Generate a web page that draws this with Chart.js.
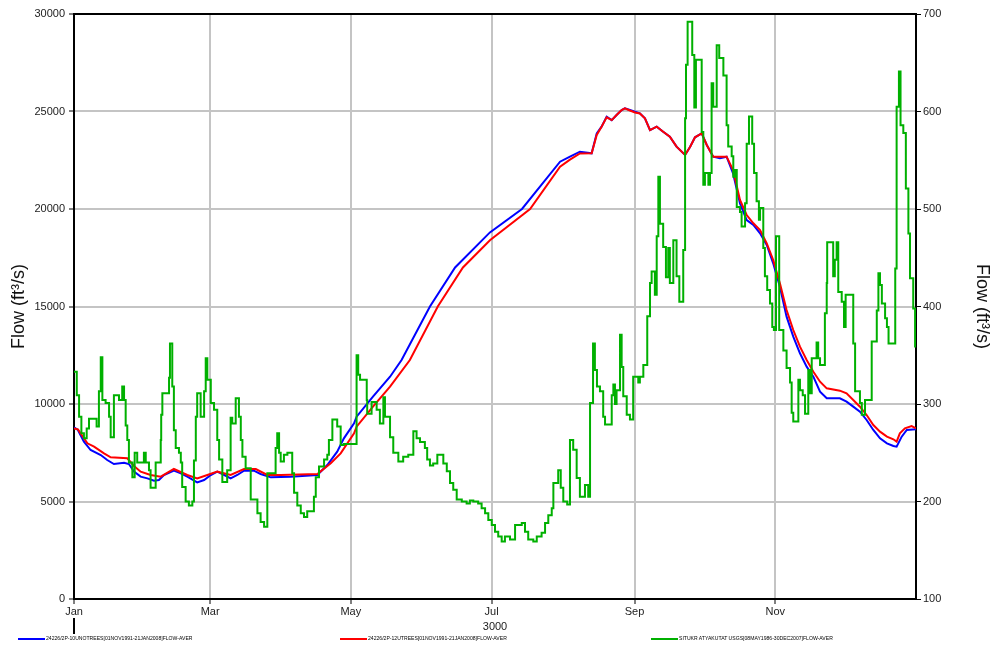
<!DOCTYPE html>
<html>
<head>
<meta charset="utf-8">
<script src="https://cdn.jsdelivr.net/npm/chart.js@4"></script>
<style>
  body { margin: 0; background: #fff; }
  #wrap { position: relative; width: 993px; height: 648px; }
  #legend { position: absolute; left: 0; top: 633px; width: 993px; height: 12px;
            font-family: "Liberation Sans", Arial, sans-serif; font-size: 5.1px; color: #000; }
  .item { position: absolute; top: 0; white-space: nowrap; line-height: 10px; }
  .item span { display: inline-block; width: 27px; height: 2px; vertical-align: middle; margin-right: 1px; }
</style>
</head>
<body>
<div id="wrap">
  <canvas id="flowChart" width="993" height="648"></canvas>
  <div id="legend"></div>
</div>
<script>
// day of year (0 = 1 Jan) and month tick labels
var monthStarts = [0, 59, 120, 181, 243, 304];
var monthLabels = ['Jan', 'Mar', 'May', 'Jul', 'Sep', 'Nov'];
var yearLabel = '3000';

var seriesLabels = [
    '24226/2P-10UNOTREES[01NOV1991-21JAN2008]FLOW-AVER',
    '24226/2P-12UTREES[01NOV1991-21JAN2008]FLOW-AVER',
    'SITUKR ATYAKUTAT USGS[08MAY1986-30DEC2007]FLOW-AVER'
];

// blue series (left axis, ft3/s)
var blueDays = [0, 1.7, 4.3, 7.2, 11.6, 14.4, 17.3, 21.7, 23.8, 26.0, 28.9, 31.8, 34.7, 36.8, 39.0, 43.3, 46.3, 49.1, 53.4,
    56.4, 59.3, 62.1, 64.3, 67.9, 70.8, 73.7, 78.0, 80.9, 85.3, 93.9, 105.5, 109.8, 114.1, 117.0, 121.4, 122.5, 129.6,
    137.0, 142.0, 154.3, 165.2, 180.3, 194.2, 210.7, 215.0, 219.3, 224.4, 226.6, 228.7, 230.9, 233.1, 235.2, 237.4,
    238.8, 241.0, 243.2, 245.3, 247.5, 249.7, 252.6, 255.4, 258.3, 261.2, 264.9, 267.1, 269.2, 272.1, 274.3, 277.1,
    280.0, 282.9, 285.7, 288.7, 291.6, 294.5, 297.4, 300.3, 303.1, 306.0, 308.9, 311.8, 314.7, 317.6, 320.5, 323.4,
    326.3, 332.0, 334.9, 337.8, 340.7, 343.6, 346.5, 349.4, 352.4, 355.2, 356.6, 358.8, 361.0, 365];
var blueFlow = [8800, 8667, 8067, 7640, 7385, 7128, 6923, 6990, 6923, 6530, 6274, 6188, 6068, 6103, 6359, 6581, 6444, 6274, 5983,
    6103, 6359, 6530, 6410, 6188, 6359, 6581, 6581, 6410, 6239, 6274, 6359, 6872, 7555, 8239, 9009, 9350, 10376,
    11400, 12256, 15000, 17000, 18800, 20000, 22427, 22683, 22940, 22855, 23880, 24220, 24735, 24560, 24820, 25077,
    25163, 25077, 24991, 24906, 24650, 24050, 24220, 23965, 23709, 23196, 22769, 23196, 23675, 23880, 23282, 22683,
    22598, 22683, 21830, 20290, 19436, 19180, 18753, 18154, 17214, 16017, 14479, 13453, 12600, 11915, 11403, 10632,
    10291, 10291, 10120, 9863, 9607, 9180, 8667, 8239, 7983, 7846, 7812, 8325, 8667, 8700];

// red series (left axis, ft3/s)
var redDays = [0, 1.7, 5.8, 8.7, 13.0, 15.9, 23.1, 26.0, 28.9, 33.2, 37.6, 43.3, 49.1, 53.4, 57.8, 62.1, 67.9, 73.7, 78.8,
    83.8, 89.6, 105.5, 111.3, 115.6, 121.4, 122.5, 129.6, 137.0, 145.6, 157.7, 168.6, 180.3, 197.7, 210.7, 215.0,
    219.3, 224.4, 226.6, 228.7, 230.9, 233.1, 235.2, 237.4, 238.8, 241.0, 243.2, 245.3, 247.5, 249.7, 252.6, 255.4,
    258.3, 261.2, 264.9, 267.1, 269.2, 272.1, 274.3, 277.1, 280.0, 282.9, 285.7, 288.7, 291.6, 294.5, 297.4, 300.3,
    303.1, 306.0, 308.9, 311.8, 314.7, 317.6, 320.5, 323.4, 326.3, 332.0, 334.9, 337.8, 340.7, 343.6, 346.5, 349.4,
    352.4, 355.2, 356.6, 358.0, 360.2, 363.1, 365];
var redFlow = [8750, 8700, 7983, 7812, 7470, 7265, 7214, 6820, 6530, 6359, 6274, 6667, 6359, 6188, 6359, 6530, 6359, 6667, 6667,
    6359, 6359, 6410, 6958, 7470, 8496, 8838, 9863, 10889, 12256, 15000, 17000, 18400, 20000, 22170, 22530,
    22850, 22855, 23800, 24220, 24700, 24560, 24820, 25077, 25163, 25050, 24950, 24900, 24650, 24050, 24220, 23965,
    23709, 23196, 22769, 23196, 23675, 23880, 23282, 22683, 22683, 22683, 22000, 20460, 19692, 19265, 18923, 18240,
    17385, 16190, 14820, 13795, 12940, 12256, 11657, 11144, 10803, 10683, 10547, 10205, 9863, 9436, 8923, 8581,
    8325, 8190, 8068, 8496, 8752, 8872, 8752];

// green series (right axis, ft3/s), stepped
var greenDays = [0, 1.2, 2.2, 3.2, 4.3, 5.5, 6.5, 9.8, 10.8, 11.6, 12.3, 13.7, 15.2, 15.9, 17.3, 19.5, 20.9, 21.7, 22.4,
    23.1, 23.8, 25.3, 26.3, 27.4, 30.3, 31.1, 32.5, 33.2, 35.4, 37.6, 37.8, 38.3, 41.2, 41.6, 42.6, 43.3, 44.1, 45.5,
    46.3, 46.9, 48.4, 49.8, 51.3, 52.0, 52.8, 53.4, 54.9, 56.4, 57.1, 57.8, 59.3, 60.7, 62.1, 62.9, 64.3, 66.4, 67.9,
    68.6, 70.1, 71.5, 72.3, 73.0, 74.4, 76.6, 79.5, 80.9, 82.4, 83.8, 87.4, 88.1, 88.9, 89.6, 91.0, 92.5, 94.6, 95.4,
    96.8, 98.3, 99.7, 101.1, 104.0, 104.8, 106.2, 108.4, 109.8, 110.5, 112.0, 114.1, 115.6, 117.0, 122.5, 123.2,
    124.0, 126.9, 127.1, 129.0, 131.2, 132.6, 134.1, 134.8, 137.0, 138.4, 140.6, 142.7, 144.9, 147.1, 148.5, 150.0,
    152.1, 153.1, 154.3, 155.7, 157.5, 160.1, 161.6, 163.0, 164.4, 165.9, 168.1, 170.2, 171.6, 173.1, 175.2, 176.7,
    178.2, 179.6, 181.1, 182.5, 183.9, 185.4, 186.8, 189.0, 191.2, 194.1, 195.5, 196.9, 199.1, 200.6, 202.7, 204.2,
    205.6, 207.1, 207.8, 209.9, 211.0, 212.1, 213.8, 215.0, 216.4, 217.9, 219.3, 221.5, 222.9, 223.7, 225.0, 225.8,
    226.7, 228.0, 229.4, 230.2, 233.1, 233.8, 234.5, 235.2, 236.7, 237.4, 238.1, 239.6, 241.0, 242.4, 244.6, 245.3,
    246.8, 248.5, 249.7, 250.4, 251.8, 252.6, 253.3, 254.0, 255.4, 256.6, 257.6, 258.3, 259.8, 261.2, 262.4, 264.1,
    264.9, 265.3, 266.0, 268.0, 268.9, 269.6, 272.1, 272.8, 273.5, 275.0, 275.7, 276.4, 277.1, 278.6, 279.7, 281.5,
    282.9, 283.6, 285.1, 285.8, 286.5, 287.3, 288.7, 289.4, 290.9, 291.6, 292.6, 294.0, 294.8, 295.9, 296.9, 297.4,
    298.8, 299.5, 300.5, 301.7, 302.7, 303.4, 304.3, 305.7, 307.5, 308.9, 310.4, 311.1, 311.8, 314.0, 314.7, 315.9,
    316.9, 318.3, 319.0, 319.8, 321.9, 322.6, 323.4, 325.5, 326.3, 326.5, 329.1, 329.8, 330.6, 331.3, 332.8, 333.8,
    334.5, 337.8, 338.6, 340.7, 341.5, 342.9, 345.8, 348.0, 348.7, 349.4, 350.2, 351.6, 352.4, 353.1, 356.0, 356.6,
    357.6, 358.3, 359.5, 360.6, 361.7, 362.4, 363.8, 364.6, 365];
var greenFlow = [333, 309, 287, 270, 265, 275, 285, 277, 313, 348, 304, 301, 287, 266, 309, 304, 318, 304, 278,
    263, 240, 225, 250, 240, 250, 240, 232, 214, 240, 263, 289, 311, 327, 362, 318, 273, 255, 250,
    240, 215, 200, 196, 200, 242, 287, 311, 287, 313, 347, 325, 301, 294, 263, 243, 220, 232, 286,
    280, 306, 287, 263, 246, 234, 202, 188, 179, 174, 229, 255, 270, 250, 241, 248, 250, 229, 209,
    196, 188, 184, 190, 205, 225, 236, 243, 248, 263, 284, 277, 258, 259, 350, 330,
    325, 304, 290, 302, 294, 280, 307, 287, 266, 250, 241, 246, 248, 272, 265, 261,
    255, 243, 237, 239, 248, 239, 231, 219, 212, 202, 200, 198, 201, 200, 198, 193,
    188, 181, 176, 169, 164, 159, 164, 161, 176, 178, 169, 161, 159, 164, 168, 178,
    186, 193, 219, 232, 214, 200, 197, 263, 253, 224, 205, 217, 205, 301, 362, 335,
    318, 313, 287, 279, 309, 320, 300, 314, 371, 338, 308, 289, 284, 328, 322, 328,
    340, 390, 424, 436, 412, 472, 533, 485, 461, 430, 460, 424, 468, 431, 405, 458,
    593, 648, 692, 658, 604, 653, 579, 525, 537, 525, 537, 629, 605, 668, 655, 637,
    586, 564, 554, 533, 540, 502, 497, 482, 506, 567, 595, 567, 537, 508, 489, 501,
    460, 431, 417, 403, 379, 376, 472, 376, 355, 337, 322, 291, 282, 325, 314, 309,
    290, 335, 311, 347, 363, 347, 340, 393, 424, 466, 431, 448, 466, 415, 405, 379,
    412, 362, 313, 301, 289, 304, 364, 396, 434, 422, 403, 388, 379, 362, 439, 605,
    641, 586, 578, 521, 475, 429, 398, 359, 359];

function toPoints(days, values) {
    return days.map(function (d, i) { return { x: d, y: values[i] }; });
}

var fontFamily = '"Liberation Sans", Arial, sans-serif';
var tickFont = { family: fontFamily, size: 11 };

// top frame line and the long year tick under Jan
var framePlugin = {
    id: 'frame',
    afterDraw: function (chart) {
        var ctx = chart.ctx, a = chart.chartArea;
        var x0 = chart.scales.x.getPixelForValue(0);
        ctx.save();
        ctx.strokeStyle = '#000';
        ctx.lineWidth = 2;
        ctx.beginPath();
        ctx.moveTo(a.left - 1, a.top);
        ctx.lineTo(a.right + 1, a.top);
        ctx.stroke();
        ctx.beginPath();
        ctx.moveTo(x0, a.bottom + 19);
        ctx.lineTo(x0, a.bottom + 35);
        ctx.stroke();
        ctx.restore();
    }
};

var ctx = document.getElementById('flowChart').getContext('2d');
var chart = new Chart(ctx, {
    type: 'line',
    data: {
        datasets: [{
            label: seriesLabels[0],
            data: toPoints(blueDays, blueFlow),
            borderColor: '#0000ff',
            yAxisID: 'y',
            order: 2
        }, {
            label: seriesLabels[1],
            data: toPoints(redDays, redFlow),
            borderColor: '#ff0000',
            yAxisID: 'y',
            order: 1
        }, {
            label: seriesLabels[2],
            data: toPoints(greenDays, greenFlow),
            borderColor: '#00b000',
            stepped: true,
            yAxisID: 'y2',
            order: 0
        }]
    },
    options: {
        responsive: false,
        animation: false,
        layout: { padding: { top: 14, bottom: 14 } },
        elements: {
            point: { radius: 0 },
            line: { borderWidth: 2, tension: 0 }
        },
        plugins: {
            legend: { display: false },
            tooltip: { enabled: false }
        },
        scales: {
            x: {
                type: 'linear',
                min: 0,
                max: 365,
                afterBuildTicks: function (s) {
                    s.ticks = monthStarts.map(function (v) { return { value: v }; });
                },
                afterFit: function (s) { s.height = 35; },
                ticks: {
                    autoSkip: false,
                    maxRotation: 0,
                    padding: 1,
                    font: tickFont,
                    color: '#222',
                    callback: function (v) { return monthLabels[monthStarts.indexOf(v)]; }
                },
                grid: { color: '#c4c4c4', lineWidth: 2, tickColor: '#000', tickLength: 5, tickWidth: 1 },
                border: { color: '#000', width: 2 },
                title: { display: true, text: yearLabel, font: tickFont, color: '#222', padding: { top: 1, bottom: 0 } }
            },
            y: {
                position: 'left',
                min: 0,
                max: 30000,
                afterFit: function (s) { s.width = 74; },
                ticks: {
                    stepSize: 5000,
                    padding: 4,
                    font: tickFont,
                    color: '#222',
                    callback: function (v) { return String(v); }
                },
                grid: { color: '#c4c4c4', lineWidth: 2, tickColor: '#000', tickLength: 5, tickWidth: 1 },
                border: { color: '#000', width: 2 },
                title: { display: true, text: 'Flow (ft\u00b3/s)', font: { family: fontFamily, size: 18 }, color: '#111', padding: { top: 8, bottom: 0 } }
            },
            y2: {
                position: 'right',
                min: 100,
                max: 700,
                afterFit: function (s) { s.width = 77; },
                ticks: {
                    stepSize: 100,
                    padding: 2,
                    font: tickFont,
                    color: '#222'
                },
                grid: { drawOnChartArea: false, tickColor: '#000', tickLength: 5, tickWidth: 1 },
                border: { color: '#000', width: 2 },
                title: { display: true, text: 'Flow (ft\u00b3/s)', font: { family: fontFamily, size: 18 }, color: '#111', padding: { top: 0, bottom: 6 } }
            }
        }
    },
    plugins: [framePlugin]
});

// legend spread along the bottom, built from the dataset labels
var legendX = [18, 340, 651];
var legendBox = document.getElementById('legend');
chart.data.datasets.forEach(function (ds, i) {
    var item = document.createElement('div');
    item.className = 'item';
    item.style.left = legendX[i] + 'px';
    var swatch = document.createElement('span');
    swatch.style.background = ds.borderColor;
    item.appendChild(swatch);
    item.appendChild(document.createTextNode(ds.label));
    legendBox.appendChild(item);
});
</script>
</body>
</html>
